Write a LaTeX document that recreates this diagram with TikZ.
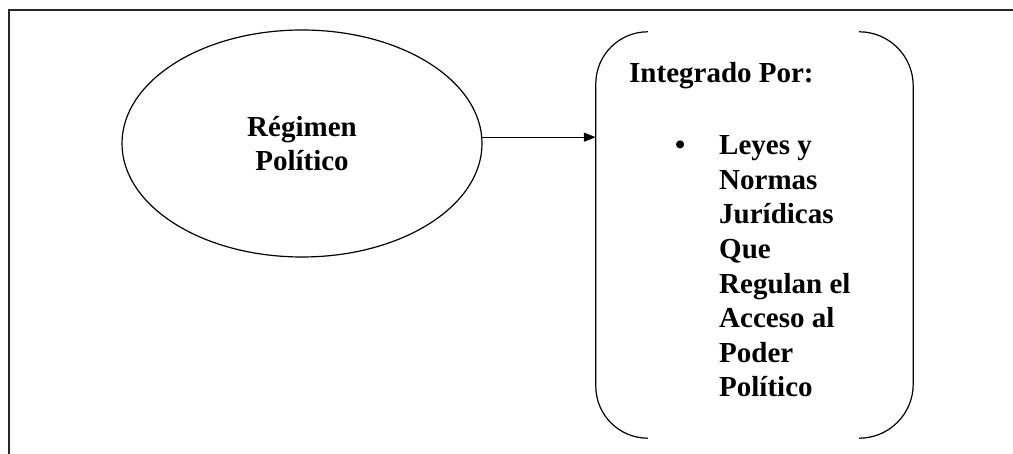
\documentclass[tikz,border=0pt]{standalone}
\usepackage{fontspec}
\setmainfont{Liberation Serif}
\usetikzlibrary{positioning,shapes.geometric,arrows.meta}

\begin{document}
\begin{tikzpicture}[x=1pt, y=1pt,
    ovalo/.style={draw, ellipse, line width=1.2pt, minimum width=360pt, minimum height=227pt, inner sep=0pt, align=center, font=\fontsize{29}{34.6}\selectfont\bfseries},
    texto/.style={anchor=base west, inner sep=0pt, align=left, font=\fontsize{29}{34.6}\selectfont\bfseries},
    linea/.style={line width=1.2pt},
    arrow/.style={-{Triangle[length=12pt, width=9pt]}, line width=1.2pt}
  ]
  \useasboundingbox (0,0) rectangle (1013,454);
  \clip (0,0) rectangle (1013,454);
  % outer frame
  \draw[line width=2pt, black!85] (9,-20) rectangle (1030,444);

  \node (regimen) [ovalo] at (302,310.5) {Régimen\\Político};
  \node (marco) [minimum width=317pt, minimum height=406pt, inner sep=0pt] at (754.5,219) {};

  % brackets
  \draw[linea] ([xshift=52pt]marco.north west) arc[start angle=90, end angle=180, radius=52pt]
    -- ([yshift=52pt]marco.south west) arc[start angle=180, end angle=270, radius=52pt];
  \draw[linea] ([xshift=-54pt]marco.north east) arc[start angle=90, end angle=0, radius=54pt]
    -- ([yshift=54pt]marco.south east) arc[start angle=0, end angle=-90, radius=54pt];

  \node (titulo) [texto] at (629,371) {Integrado Por:};
  \node (vineta) [texto] at (675,299) {\textbullet};
  % base anchor sits on the last line
  \node (leyes) [texto] at (719,57) {Leyes y\\Normas\\Jurídicas\\Que\\Regulan el\\Acceso al\\Poder\\Político};

  \draw [arrow] (regimen.2.7) -- (regimen.2.7 -| marco.west);
\end{tikzpicture}
\end{document}
